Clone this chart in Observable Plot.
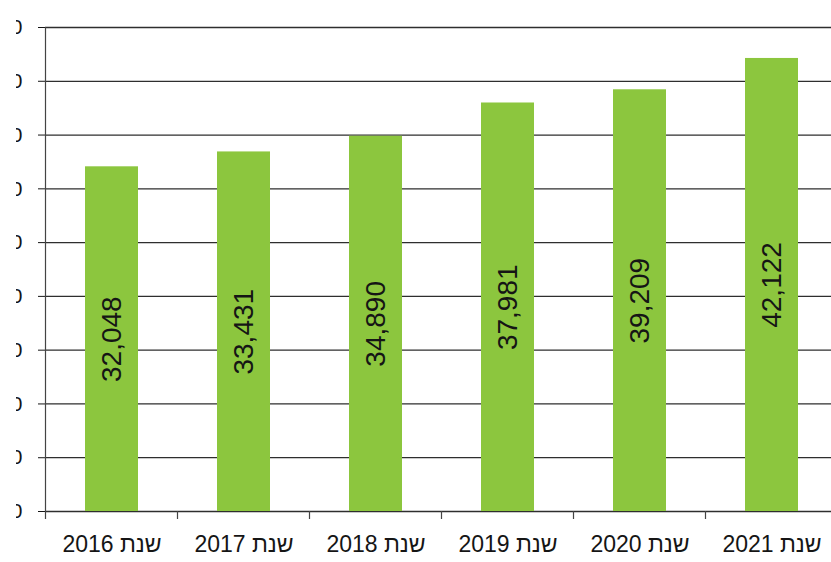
<!DOCTYPE html>
<html><head><meta charset="utf-8">
<script src="https://cdn.jsdelivr.net/npm/d3@7"></script>
<script src="https://cdn.jsdelivr.net/npm/@observablehq/plot@0.6"></script>
<style>
html,body{margin:0;padding:0;background:#fff;overflow:hidden;}
#clip{position:absolute;left:16px;top:0;width:815px;height:562px;overflow:hidden;}
#chart{position:absolute;left:-16px;top:0;width:838px;height:562px;}
#chart svg [aria-label^="x-axis"] text{font-size:23px;}
#chart svg [aria-label^="y-axis"] text{font-size:21px;}
</style></head><body>
<div id="clip"><div id="chart"></div></div>
<script>
const years = ["2016", "2017", "2018", "2019", "2020", "2021"];
const values = [32048, 33431, 34890, 37981, 39209, 42122];
const categoryPrefix = "שנת";
const yTicks = [0, 5000, 10000, 15000, 20000, 25000, 30000, 35000, 40000, 45000];

const data = years.map((y, i) => ({year: y, value: values[i]}));
const fmt = d3.format(",");
const lineColor = "#2e2e2e";
const barColor = "#8cc63e";

// axis line on the left and tick marks between the categories
const boundaryTicks = (index, scales) => {
  const x = scales.x, y = scales.y;
  const step = x.step ? x.step() : x(years[1]) - x(years[0]);
  const bw = x.bandwidth ? x.bandwidth() : 0;
  const gap = (step - bw) / 2;
  const y0 = y(0), yTop = y(d3.max(yTicks));
  const g = d3.create("svg:g").attr("stroke", "#444").attr("stroke-width", 1.2);
  const left = x(years[0]) - gap;
  g.append("line").attr("x1", left).attr("x2", left).attr("y1", yTop).attr("y2", y0 + 8);
  for (const yr of years) {
    const bx = x(yr) + bw + gap;
    g.append("line").attr("x1", bx).attr("x2", bx).attr("y1", y0).attr("y2", y0 + 8);
  }
  return g.node();
};

const chart = Plot.plot({
  width: 838,
  height: 562,
  marginLeft: 45,
  marginRight: 0,
  marginTop: 27,
  marginBottom: 51,
  style: {fontFamily: "'Liberation Sans', Arial, sans-serif", fontSize: "21px", color: "#151515", background: "white", maxWidth: "none"},
  x: {domain: years, paddingInner: 0.6, paddingOuter: 0.3, tickSize: 0, tickPadding: 24, tickFormat: d => `${categoryPrefix} ${d}`, label: null},
  y: {domain: [0, 45000], ticks: yTicks, tickFormat: d3.format(","), tickSize: 7, tickPadding: 16, label: null},
  marks: [
    Plot.ruleY(yTicks, {stroke: lineColor, strokeWidth: 1.3}),
    Plot.barY(data, {x: "year", y: "value", fill: barColor}),
    Plot.text(data, {x: "year", y: d => d.value / 2, text: d => fmt(d.value), rotate: -90, fontSize: 28, fill: "#151515"}),
    boundaryTicks
  ]
});
document.getElementById("chart").appendChild(chart);
</script>
</body></html>
